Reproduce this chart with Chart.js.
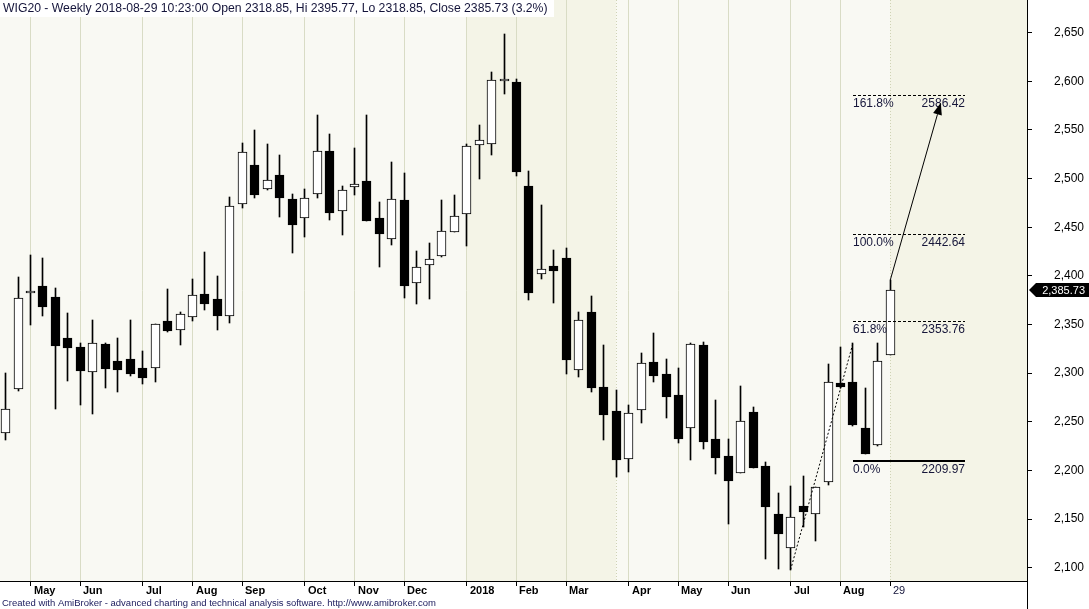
<!DOCTYPE html>
<html>
<head>
<meta charset="utf-8">
<title>WIG20 - Weekly</title>
<script src="https://cdn.jsdelivr.net/npm/chart.js@4.4.1/dist/chart.umd.min.js"></script>
<style>
    html, body { margin: 0; padding: 0; background: #fff; }
    #wrap { width: 1089px; height: 609px; }
</style>
</head>
<body>
<div id="wrap"><canvas id="chart" width="1089" height="609"></canvas></div>
<script>
// 주간 시세 (2017-04-21 ~ 2018-08-31, 72주)
const opens = [
    2238.2, 2283.4, 2382.1, 2389.6, 2378.0, 2335.8, 2326.6, 2301.5, 2329.7, 2312.2,
    2314.2, 2305.0, 2305.0, 2353.3, 2344.7, 2357.4, 2381.1, 2375.9, 2358.4, 2473.6,
    2513.7, 2489.0, 2503.4, 2479.0, 2459.2, 2483.9, 2528.1, 2466.4, 2491.1, 2497.2,
    2459.2, 2437.6, 2477.7, 2392.4, 2410.9, 2420.1, 2445.4, 2463.3, 2534.2, 2535.2,
    2600.0, 2599.3, 2492.4, 2401.6, 2409.8, 2418.4, 2302.9, 2362.6, 2285.5, 2260.8,
    2211.4, 2261.8, 2311.5, 2299.1, 2277.5, 2243.3, 2328.9, 2232.3, 2214.8, 2197.7,
    2260.1, 2204.6, 2154.9, 2119.9, 2163.1, 2154.9, 2187.8, 2289.6, 2290.9, 2243.9,
    2225.8, 2318.85
];
const highs = [
    2299.8, 2398.5, 2421.5, 2418.4, 2387.2, 2361.5, 2330.7, 2354.6, 2330.5, 2335.8,
    2354.6, 2322.8, 2351.0, 2386.2, 2362.9, 2396.8, 2424.5, 2399.9, 2481.1, 2536.6,
    2550.0, 2535.6, 2524.3, 2483.9, 2489.0, 2565.4, 2545.8, 2492.4, 2531.1, 2565.4,
    2475.9, 2517.1, 2505.8, 2425.6, 2433.8, 2478.0, 2483.1, 2535.2, 2554.8, 2609.3,
    2648.6, 2602.4, 2507.8, 2472.9, 2426.6, 2428.7, 2362.9, 2379.3, 2328.9, 2282.7,
    2267.3, 2320.7, 2341.3, 2314.5, 2305.3, 2331.0, 2331.7, 2272.4, 2232.0, 2286.8,
    2265.5, 2208.4, 2176.8, 2184.0, 2194.3, 2183.0, 2309.7, 2326.6, 2330.6, 2284.4,
    2331.3, 2395.77
];
const lows = [
    2231.3, 2282.0, 2349.5, 2359.1, 2263.5, 2292.2, 2267.3, 2258.3, 2285.0, 2280.9,
    2297.4, 2289.2, 2291.2, 2342.5, 2329.2, 2353.9, 2364.9, 2344.4, 2351.9, 2470.1,
    2480.4, 2488.5, 2460.8, 2423.8, 2440.3, 2480.4, 2457.7, 2442.3, 2483.4, 2456.0,
    2409.4, 2432.0, 2377.3, 2371.1, 2375.9, 2419.5, 2445.0, 2431.0, 2499.9, 2524.6,
    2587.3, 2502.7, 2375.5, 2397.1, 2372.4, 2299.4, 2296.4, 2280.9, 2231.6, 2193.6,
    2198.7, 2249.1, 2291.2, 2254.2, 2228.5, 2211.0, 2222.3, 2196.6, 2145.2, 2197.0,
    2202.0, 2109.3, 2098.4, 2097.9, 2142.2, 2127.8, 2185.0, 2284.4, 2246.0, 2216.5,
    2225.0, 2318.85
];
const closes = [
    2263.5, 2376.9, 2382.3, 2368.3, 2328.2, 2326.2, 2302.5, 2330.7, 2304.6, 2303.6,
    2299.4, 2295.3, 2350.2, 2343.0, 2360.5, 2380.0, 2371.4, 2359.1, 2471.5, 2527.0,
    2483.4, 2498.3, 2480.4, 2452.6, 2479.7, 2528.1, 2464.9, 2488.0, 2494.1, 2456.7,
    2443.4, 2478.7, 2389.9, 2408.8, 2417.0, 2445.8, 2461.2, 2533.2, 2539.4, 2601.1,
    2600.2, 2506.8, 2382.7, 2406.8, 2405.3, 2313.8, 2354.3, 2285.0, 2257.3, 2210.4,
    2258.7, 2310.1, 2297.4, 2275.5, 2232.6, 2330.0, 2229.5, 2213.1, 2189.4, 2250.5,
    2202.8, 2162.7, 2135.0, 2151.8, 2157.0, 2182.6, 2290.9, 2286.1, 2247.0, 2217.2,
    2312.2, 2385.73
];

// 월 눈금 (막대 인덱스) 및 라벨
const monthIdx = [2, 6, 11, 15, 19, 24, 28, 32, 37, 41, 45, 50, 54, 58, 63, 67, 71];
const monthLabels = ['May', 'Jun', 'Jul', 'Aug', 'Sep', 'Oct', 'Nov', 'Dec', '2018',
    'Feb', 'Mar', 'Apr', 'May', 'Jun', 'Jul', 'Aug', '29'];
const yTicks = [2100, 2150, 2200, 2250, 2300, 2350, 2400, 2450, 2500, 2550, 2600, 2650];

// 피보나치 레벨
const fibNames = ['161.8%', '100.0%', '61.8%', '0.0%'];
const fibValues = [2586.42, 2442.64, 2353.76, 2209.97];
const fibRange = [68, 77];

// 음영 구간, 추세선, 화살표 (막대 인덱스 / 가격)
const shadeRanges = [[37, 49], [71, 82]];
const trendFrom = [63, lows[63]];
const trendTo = [68, highs[68]];
const arrowFrom = [71, 2395.77];
const arrowTo = [75.05, 2578];

const lastClose = closes[closes.length - 1];
const titleText = 'WIG20 - Weekly 2018-08-29 10:23:00 Open 2318.85, Hi 2395.77, Lo 2318.85, Close 2385.73 (3.2%)';
const footerText = 'Created with AmiBroker - advanced charting and technical analysis software. http://www.amibroker.com';

const FONT = '"Liberation Sans", Arial, sans-serif';
const idx = opens.map((_, i) => i);

/**
 * 목표 폭에 맞는 글꼴 크기 계산
 */
function fitSize(ctx, text, width, weight) {
    ctx.font = weight + ' 100px ' + FONT;
    return 100 * width / ctx.measureText(text).width;
}

// 배경 및 음영
const bgPlugin = {
    id: 'bg',
    beforeDraw(chart) {
        const { ctx, chartArea: a, scales: { x } } = chart;
        ctx.save();
        ctx.fillStyle = '#ffffff';
        ctx.fillRect(0, 0, chart.width, chart.height);
        ctx.fillStyle = '#f9f9f3';
        ctx.fillRect(a.left, a.top, a.width, a.height);
        ctx.fillStyle = '#f4f4e7';
        shadeRanges.forEach(([s, e]) => {
            const x0 = Math.round(x.getPixelForValue(s));
            const x1 = Math.min(a.right, Math.round(x.getPixelForValue(e)));
            ctx.fillRect(x0, a.top, x1 - x0, a.height);
        });
        ctx.restore();
    },
    beforeDatasetsDraw(chart) {
        const { ctx, chartArea: a, scales: { x } } = chart;
        ctx.save();
        ctx.strokeStyle = '#cfd3b5';
        ctx.lineWidth = 1;
        ctx.setLineDash([1, 2]);
        [shadeRanges[0][1], shadeRanges[1][0]].forEach(v => {
            const px = Math.round(x.getPixelForValue(v)) + 0.5;
            ctx.beginPath();
            ctx.moveTo(px, a.top);
            ctx.lineTo(px, a.bottom);
            ctx.stroke();
        });
        ctx.restore();

        // 막대 위치를 픽셀 격자에 맞춤 (선명하게)
        chart.data.datasets.forEach((_, di) => {
            chart.getDatasetMeta(di).data.forEach(el => {
                el.x = Math.floor(el.x) + 0.5;
                el.y = Math.round(el.y);
                el.base = Math.round(el.base);
            });
        });
    }
};

// 추세선, 피보나치, 화살표, 텍스트
const overlayPlugin = {
    id: 'overlay',
    afterDatasetsDraw(chart) {
        const { ctx, scales: { x, y } } = chart;
        ctx.save();

        // 점선 추세선
        ctx.strokeStyle = '#000';
        ctx.lineWidth = 1;
        ctx.setLineDash([2, 2]);
        ctx.beginPath();
        ctx.moveTo(x.getPixelForValue(trendFrom[0]), y.getPixelForValue(trendFrom[1]));
        ctx.lineTo(x.getPixelForValue(trendTo[0]), y.getPixelForValue(trendTo[1]));
        ctx.stroke();

        // 피보나치 레벨
        const fx0 = Math.round(x.getPixelForValue(fibRange[0]));
        const fx1 = Math.round(x.getPixelForValue(fibRange[1]));
        ctx.font = '12px ' + FONT;
        ctx.textBaseline = 'alphabetic';
        fibValues.forEach((v, i) => {
            const py = Math.round(y.getPixelForValue(v));
            ctx.strokeStyle = '#000';
            if (i === fibValues.length - 1) {
                ctx.setLineDash([]);
                ctx.lineWidth = 2;
                ctx.beginPath();
                ctx.moveTo(fx0, py);
                ctx.lineTo(fx1, py);
                ctx.stroke();
            } else {
                ctx.setLineDash([3, 2]);
                ctx.lineWidth = 1;
                ctx.beginPath();
                ctx.moveTo(fx0, py + 0.5);
                ctx.lineTo(fx1, py + 0.5);
                ctx.stroke();
            }
            ctx.fillStyle = '#16163a';
            ctx.textAlign = 'left';
            ctx.fillText(fibNames[i], fx0, py + 12);
            ctx.textAlign = 'right';
            ctx.fillText(v.toFixed(2), fx1, py + 12);
        });

        // 화살표
        ctx.setLineDash([]);
        ctx.lineWidth = 1;
        const ax0 = x.getPixelForValue(arrowFrom[0]), ay0 = y.getPixelForValue(arrowFrom[1]);
        const ax1 = x.getPixelForValue(arrowTo[0]), ay1 = y.getPixelForValue(arrowTo[1]);
        const ang = Math.atan2(ay1 - ay0, ax1 - ax0);
        const len = 12, half = 4.5;
        const bx = ax1 - len * Math.cos(ang), by = ay1 - len * Math.sin(ang);
        ctx.beginPath();
        ctx.moveTo(ax0, ay0);
        ctx.lineTo(bx, by);
        ctx.stroke();
        ctx.fillStyle = '#000';
        ctx.beginPath();
        ctx.moveTo(ax1, ay1);
        ctx.lineTo(bx + half * Math.sin(ang), by - half * Math.cos(ang));
        ctx.lineTo(bx - half * Math.sin(ang), by + half * Math.cos(ang));
        ctx.closePath();
        ctx.fill();
        ctx.restore();
    },
    afterDraw(chart) {
        const { ctx, chartArea: a, scales: { x, y } } = chart;
        ctx.save();

        // 제목
        const ts = fitSize(ctx, titleText, 545, 'normal');
        ctx.font = ts.toFixed(2) + 'px ' + FONT;
        const tw = ctx.measureText(titleText).width;
        ctx.fillStyle = '#ffffff';
        ctx.fillRect(0, 0, Math.round(tw + 9), 17);
        ctx.fillStyle = '#14143a';
        ctx.textAlign = 'left';
        ctx.textBaseline = 'alphabetic';
        ctx.fillText(titleText, 3, 12);

        // 하단 월 라벨
        monthIdx.forEach((v, i) => {
            const bold = monthLabels[i] !== '29';
            ctx.font = (bold ? 'bold ' : '') + '11px ' + FONT;
            ctx.fillStyle = bold ? '#000' : '#14143a';
            ctx.fillText(monthLabels[i], Math.round(x.getPixelForValue(v)) + 3, 594);
        });

        // 하단 안내문
        const fs = fitSize(ctx, footerText, 434, 'normal');
        ctx.font = fs.toFixed(2) + 'px ' + FONT;
        ctx.fillStyle = '#1a1a5c';
        ctx.fillText(footerText, 2, 606);

        // 오른쪽 축선 연장
        ctx.strokeStyle = '#000';
        ctx.lineWidth = 1;
        ctx.beginPath();
        ctx.moveTo(Math.round(a.right) + 0.5, a.bottom);
        ctx.lineTo(Math.round(a.right) + 0.5, chart.height);
        ctx.stroke();

        // 현재가 표시
        const py = Math.round(y.getPixelForValue(lastClose));
        const lx = Math.round(a.right) + 2;
        ctx.fillStyle = '#000';
        ctx.beginPath();
        ctx.moveTo(lx, py);
        ctx.lineTo(lx + 7, py - 7);
        ctx.lineTo(chart.width, py - 7);
        ctx.lineTo(chart.width, py + 7);
        ctx.lineTo(lx + 7, py + 7);
        ctx.closePath();
        ctx.fill();
        ctx.font = '11px ' + FONT;
        ctx.fillStyle = '#ffffff';
        ctx.textAlign = 'right';
        ctx.textBaseline = 'middle';
        ctx.fillText(lastClose.toLocaleString('en-US', { minimumFractionDigits: 2 }), chart.width - 4, py + 1);
        ctx.restore();
    }
};

const ctx = document.getElementById('chart').getContext('2d');
new Chart(ctx, {
    type: 'bar',
    data: {
        datasets: [
            {
                label: 'body',
                data: idx.map(i => ({ x: i, y: [opens[i], closes[i]] })),
                backgroundColor: idx.map(i => closes[i] >= opens[i] ? '#ffffff' : '#000000'),
                borderColor: '#000000',
                borderWidth: 1,
                borderSkipped: false,
                barThickness: 9,
                minBarLength: 2,
                grouped: false,
                order: 0
            },
            {
                label: 'wick',
                data: idx.map(i => ({ x: i, y: [lows[i], highs[i]] })),
                backgroundColor: '#000000',
                borderWidth: 0,
                barThickness: 1,
                grouped: false,
                order: 1
            }
        ]
    },
    options: {
        responsive: false,
        maintainAspectRatio: false,
        animation: false,
        layout: { padding: 0 },
        plugins: {
            legend: { display: false },
            tooltip: { enabled: false },
            title: { display: false }
        },
        scales: {
            x: {
                type: 'linear',
                min: -0.45,
                max: 81.97,
                offset: false,
                afterBuildTicks: s => { s.ticks = monthIdx.map(v => ({ value: v })); },
                afterFit: s => { s.height = 28; s.paddingLeft = 0; s.paddingRight = 0; },
                ticks: { display: false },
                grid: {
                    offset: false,
                    color: c => (c.tick && c.tick.value === 71) ? 'rgba(0,0,0,0)' : '#d9dcc5',
                    lineWidth: 1,
                    drawTicks: true,
                    tickLength: 5,
                    tickColor: '#000000'
                },
                border: { display: true, color: '#000000', width: 1 }
            },
            y: {
                position: 'right',
                min: 2086.3,
                max: 2683.6,
                beginAtZero: false,
                afterBuildTicks: s => { s.ticks = yTicks.map(v => ({ value: v })); },
                afterFit: s => { s.width = 62; s.paddingTop = 0; s.paddingBottom = 0; },
                ticks: {
                    padding: 22,
                    crossAlign: 'near',
                    color: '#000000',
                    font: { family: FONT, size: 12 },
                    callback: v => v.toLocaleString('en-US')
                },
                grid: {
                    drawOnChartArea: false,
                    drawTicks: true,
                    tickLength: 5,
                    tickColor: '#000000'
                },
                border: { display: true, color: '#000000', width: 1 }
            }
        }
    },
    plugins: [bgPlugin, overlayPlugin]
});
</script>
</body>
</html>
